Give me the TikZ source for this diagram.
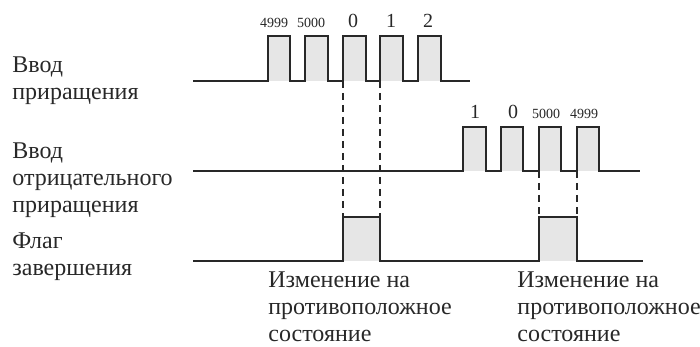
\documentclass[tikz,border=0pt]{standalone}
\usepackage{fontspec}
\setmainfont{Liberation Serif}
\usetikzlibrary{positioning}
\definecolor{PulseGray}{RGB}{230, 230, 230}
\definecolor{LineGray}{RGB}{40, 40, 40}
\tikzset{
  sig/.style={draw=LineGray, line width=0.6pt, line join=miter},
  guide/.style={draw=LineGray, line width=0.6pt, dash pattern=on 3.5pt off 2.5pt},
  lbl/.style={anchor=base west, align=left, inner sep=0pt,
    font=\fontsize{12}{13.5}\selectfont, text=LineGray},
  cnt/.style={anchor=base, inner sep=0pt, font=\fontsize{7}{8}\selectfont, text=LineGray},
  cntbig/.style={anchor=base, inner sep=0pt, font=\fontsize{10}{12}\selectfont, text=LineGray},
}
\begin{document}
\begin{tikzpicture}[x=0.5pt, y=-0.5pt]
  \useasboundingbox (0,0) rectangle (700,347);
  % signal names (placed by their last line)
  \node[lbl] (inc-lbl)  at (12,100) {Ввод\\приращения};
  \node[lbl] (dec-lbl)  at (12,213) {Ввод\\отрицательного\\приращения};
  \node[lbl] (flag-lbl) at (12,275) {Флаг\\завершения};
  % increment input
  \foreach \a/\b in {268/290,305/328,343/366,380/403,418/441}
    \fill[PulseGray] (\a,36) rectangle (\b,81);
  \draw[sig] (193,81)
    \foreach \a/\b in {268/290,305/328,343/366,380/403,418/441}
      {-- (\a,81) -- (\a,36) -- (\b,36) -- (\b,81)} -- (470,81);
  \foreach \x/\t/\s [count=\i] in {274/4999/cnt,311/5000/cnt,353/0/cntbig,391/1/cntbig,428/2/cntbig}
    \node[\s] (inc-n\i) at (\x,28) {\t};
  % decrement input
  \foreach \a/\b in {463/486,501/523,539/561,577/599}
    \fill[PulseGray] (\a,127) rectangle (\b,171);
  \draw[sig] (193,171)
    \foreach \a/\b in {463/486,501/523,539/561,577/599}
      {-- (\a,171) -- (\a,127) -- (\b,127) -- (\b,171)} -- (640,171);
  \foreach \x/\t/\s [count=\i] in {475/1/cntbig,513/0/cntbig,546/5000/cnt,584/4999/cnt}
    \node[\s] (dec-n\i) at (\x,119) {\t};
  % completion flag
  \foreach \a/\b in {343/380,539/577}
    \fill[PulseGray] (\a,217) rectangle (\b,261);
  \draw[sig] (193,261)
    \foreach \a/\b in {343/380,539/577}
      {-- (\a,261) -- (\a,217) -- (\b,217) -- (\b,261)} -- (643,261);
  % guides
  \coordinate (inc-a) at (343,81);  \coordinate (flg-a) at (343,217);
  \coordinate (inc-b) at (380,81);  \coordinate (flg-b) at (380,217);
  \coordinate (dec-a) at (539,171); \coordinate (flg-c) at (539,217);
  \coordinate (dec-b) at (577,171); \coordinate (flg-d) at (577,217);
  \draw[guide] (inc-a) -- (flg-a);
  \draw[guide] (inc-b) -- (flg-b);
  \draw[guide] (dec-a) -- (flg-c);
  \draw[guide] (dec-b) -- (flg-d);
  % toggles
  \node[lbl] (chg-a) at (268,341) {Изменение на\\противоположное\\состояние};
  \node[lbl] (chg-b) at (517,341) {Изменение на\\противоположное\\состояние};
\end{tikzpicture}
\end{document}
